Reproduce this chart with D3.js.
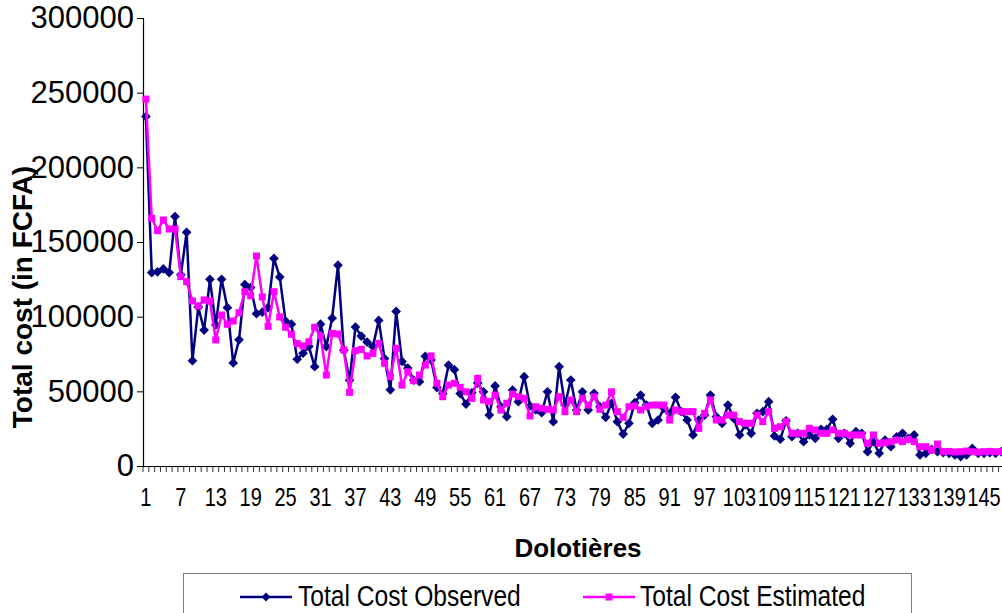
<!DOCTYPE html>
<html><head><meta charset="utf-8">
<script src="https://cdn.jsdelivr.net/npm/d3@7"></script>
<style>
html,body{margin:0;padding:0;background:#fff;overflow:hidden}
svg{display:block;font-family:"Liberation Sans",Arial,sans-serif}
</style></head>
<body>
<svg id="chart" width="1002" height="613"></svg>
<script>
const categories = d3.range(1, 149);
const observed = [234000,129500,130000,132000,129500,167000,128000,156500,70500,106500,
91000,125000,94500,125000,106000,69000,84500,121500,119500,102000,
103000,106000,139000,126500,97000,95000,71500,75500,80000,66500,
95000,80000,99000,134500,77500,57500,93000,87000,83000,80000,
97500,72000,51000,103500,70000,65500,57500,56500,73500,71000,
52500,48500,67500,64500,48500,41500,49000,55500,49700,34100,
53600,39700,33000,50900,43100,59800,40200,37500,35700,49700,
29700,66500,40800,57600,37500,49700,37500,48700,39700,32600,
42000,29700,21400,28600,42400,47500,40800,28600,30800,38600,
35300,46000,36400,30800,20800,30800,34100,47500,33000,28600,
40800,31900,20800,27500,21900,35300,36400,43100,20100,17900,
30300,19600,21900,16300,20800,18500,24600,24600,31300,18500,
21900,15200,23000,21900,9600,16300,8500,17400,12900,19600,
21900,18500,20800,7400,8500,11200,9600,8900,8500,7400,
6300,7400,11800,8500,8500,8900,8500,9600];
const estimated = [245700,165900,157600,164700,158700,158700,126800,123400,110500,107100,
111200,110500,84400,101100,94900,97100,102700,116700,114000,140600,
113200,93500,116700,99800,92900,88200,81900,80400,83200,92900,
87000,60900,88800,88400,77700,49300,77200,78100,73700,75400,
82100,68800,59800,78800,54200,63100,57100,60900,67600,73700,
55400,46400,54200,55400,52700,49700,45300,58700,44200,43100,
47500,37500,42000,48200,46400,45300,33500,39700,38600,38000,
37500,46400,36400,44200,36400,45300,40800,46400,38000,40800,
49700,36400,32600,39700,40200,37500,39700,40800,40800,40800,
30800,37500,36400,36400,36400,25200,35300,44200,30800,30800,
34100,34100,29700,28600,28600,34100,29700,36400,25200,26300,
29700,21900,21900,21900,25200,24100,21900,21900,24100,21900,
21900,20800,20800,20800,15200,20800,15200,15600,16300,17400,
16300,17900,16300,12900,12900,10700,14700,9600,9800,9400,
9600,10000,9500,9300,9600,9800,9500,9700];
const yTicks = [0,50000,100000,150000,200000,250000,300000];
const xTickLabels = categories.filter(c => (c - 1) % 6 === 0);
const seriesNames = ["Total Cost Observed", "Total Cost Estimated"];

const svg = d3.select("#chart");
const mLeft = 143, mTop = 18, mBottom = 466, band = 5.82;
const x = d3.scaleBand().domain(categories).range([mLeft, mLeft + band * categories.length]);
const y = d3.scaleLinear().domain([0, 300000]).range([mBottom, mTop]);
const cx = d => x(d) + x.bandwidth() / 2;

// Y axis
const yAxis = d3.axisLeft(y).tickValues(yTicks).tickSize(6).tickFormat(d3.format("d"));
const gy = svg.append("g").attr("transform", `translate(${mLeft},0)`).call(yAxis);
gy.select(".domain").attr("stroke", "#000").attr("stroke-width", 1.2);
gy.selectAll(".tick line").attr("stroke", "#000");
gy.selectAll(".tick text").attr("font-size", 31).attr("fill", "#000").attr("x", -9)
  .attr("font-family", '"Liberation Sans",Arial,sans-serif');

// X axis
const xAxis = d3.axisBottom(x).tickValues([]).tickSize(0);
const gx = svg.append("g").attr("transform", `translate(0,${mBottom})`).call(xAxis);
gx.select(".domain").attr("stroke", "#000").attr("stroke-width", 1.2);
svg.append("g").selectAll("line").data(categories).join("line")
  .attr("x1", d => x(d)).attr("x2", d => x(d))
  .attr("y1", mBottom).attr("y2", mBottom + 6)
  .attr("stroke", "#000").attr("stroke-width", 0.8);
svg.append("g").selectAll("text").data(xTickLabels).join("text")
  .attr("transform", d => `translate(${cx(d)},${mBottom + 40}) scale(1,1.3)`)
  .attr("text-anchor", "middle").attr("font-size", 20).attr("fill", "#000")
  .text(d => d);

// Titles
svg.append("text").attr("transform", `translate(578,557)`)
  .attr("text-anchor", "middle").attr("font-size", 26).attr("font-weight", "bold")
  .text("Dolotières");
svg.append("text").attr("transform", `translate(32,297) rotate(-90)`)
  .attr("text-anchor", "middle").attr("font-size", 28).attr("font-weight", "bold")
  .text("Total cost (in FCFA)");

// Series
const line = d3.line().x((d, i) => cx(categories[i])).y(d => y(d));
const navy = "#000080", magenta = "#FF00FF";
svg.append("path").datum(observed).attr("d", line)
  .attr("fill", "none").attr("stroke", navy).attr("stroke-width", 2.5);
svg.append("g").selectAll("path").data(observed).join("path")
  .attr("d", d3.symbol().type(d3.symbolDiamond2).size(60))
  .attr("transform", (d, i) => `translate(${cx(categories[i])},${y(d)})`)
  .attr("fill", navy);
svg.append("path").datum(estimated).attr("d", line)
  .attr("fill", "none").attr("stroke", magenta).attr("stroke-width", 2.5);
svg.append("g").selectAll("rect").data(estimated).join("rect")
  .attr("x", (d, i) => cx(categories[i]) - 3.5).attr("y", d => y(d) - 3.5)
  .attr("width", 7).attr("height", 7).attr("fill", magenta);

// Legend
const lg = svg.append("g");
lg.append("rect").attr("x", 183.5).attr("y", 573.5).attr("width", 728).attr("height", 60)
  .attr("fill", "#fff").attr("stroke", "#808080").attr("stroke-width", 1);
const items = [{name: seriesNames[0], color: navy, x0: 240, tx: 298, mark: "d"},
               {name: seriesNames[1], color: magenta, x0: 583, tx: 640, mark: "s"}];
items.forEach(it => {
  lg.append("line").attr("x1", it.x0).attr("x2", it.x0 + 52).attr("y1", 597).attr("y2", 597)
    .attr("stroke", it.color).attr("stroke-width", 2.5);
  if (it.mark === "d") {
    lg.append("path").attr("d", d3.symbol().type(d3.symbolDiamond2).size(50))
      .attr("transform", `translate(${it.x0 + 26},597)`).attr("fill", it.color);
  } else {
    lg.append("rect").attr("x", it.x0 + 26 - 3.5).attr("y", 593.5).attr("width", 7).attr("height", 7)
      .attr("fill", it.color);
  }
  lg.append("text").attr("transform", `translate(${it.tx},606) scale(1,1.2)`)
    .attr("font-size", 24.6).attr("fill", "#000").text(it.name);
});
</script>
</body></html>
